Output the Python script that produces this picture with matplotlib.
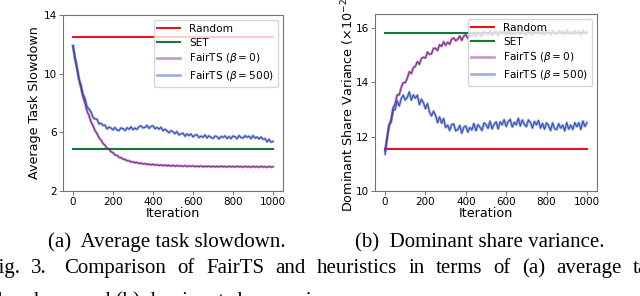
import numpy as np
import matplotlib
matplotlib.use("Agg")
import matplotlib.pyplot as plt

iterations = list(range(0, 1001, 10))

# (a) Average task slowdown
slow_random = 12.5
slow_set = 4.86
slow_fairts_b0 = [
    11.90, 11.00, 10.34, 9.58, 9.02, 8.40, 7.98, 7.46, 7.14, 6.72,
    6.46, 6.12, 5.92, 5.63, 5.48, 5.24, 5.12, 4.92, 4.85, 4.67,
    4.62, 4.46, 4.43, 4.30, 4.28, 4.17, 4.16, 4.06, 4.07, 3.97,
    3.99, 3.93, 3.94, 3.88, 3.90, 3.84, 3.87, 3.81, 3.84, 3.78,
    3.82, 3.77, 3.79, 3.74, 3.78, 3.73, 3.77, 3.72, 3.75, 3.70,
    3.75, 3.69, 3.73, 3.70, 3.72, 3.68, 3.73, 3.67, 3.71, 3.68,
    3.72, 3.66, 3.70, 3.66, 3.71, 3.65, 3.69, 3.66, 3.70, 3.64,
    3.69, 3.65, 3.68, 3.64, 3.70, 3.65, 3.68, 3.63, 3.69, 3.64,
    3.68, 3.63, 3.69, 3.64, 3.67, 3.62, 3.68, 3.64, 3.67, 3.62,
    3.68, 3.63, 3.67, 3.62, 3.68, 3.63, 3.66, 3.62, 3.67, 3.63,
    3.65,
]
slow_fairts_b500 = [
    11.89, 11.10, 10.44, 9.64, 9.22, 8.61, 8.32, 7.76, 7.59, 7.39,
    7.03, 6.91, 6.90, 6.57, 6.62, 6.47, 6.50, 6.23, 6.36, 6.29,
    6.17, 6.33, 6.16, 6.12, 6.30, 6.25, 6.12, 6.31, 6.21, 6.37,
    6.18, 6.29, 6.20, 6.39, 6.44, 6.30, 6.34, 6.47, 6.27, 6.41,
    6.44, 6.25, 6.33, 6.22, 6.34, 6.11, 6.21, 6.10, 5.97, 6.12,
    6.04, 5.91, 6.05, 5.82, 5.90, 5.94, 5.73, 5.89, 5.78, 5.89,
    5.69, 5.80, 5.84, 5.64, 5.74, 5.66, 5.82, 5.62, 5.76, 5.65,
    5.58, 5.75, 5.70, 5.55, 5.72, 5.65, 5.76, 5.58, 5.71, 5.57,
    5.75, 5.69, 5.57, 5.78, 5.64, 5.61, 5.77, 5.66, 5.74, 5.57,
    5.78, 5.60, 5.68, 5.55, 5.68, 5.53, 5.58, 5.35, 5.52, 5.33,
    5.38,
]

# (b) Dominant share variance (x1e-2)
var_random = 11.53
var_set = 15.80
var_fairts_b0 = [
    11.47, 11.95, 12.40, 12.63, 13.06, 13.21, 13.53, 13.53, 13.80, 13.98,
    13.98, 14.14, 14.38, 14.31, 14.53, 14.58, 14.75, 14.65, 14.87, 14.91,
    14.88, 15.10, 15.02, 15.04, 15.24, 15.24, 15.16, 15.37, 15.31, 15.48,
    15.35, 15.46, 15.39, 15.57, 15.62, 15.52, 15.57, 15.69, 15.53, 15.69,
    15.74, 15.61, 15.73, 15.68, 15.83, 15.67, 15.80, 15.75, 15.68, 15.85,
    15.82, 15.74, 15.89, 15.72, 15.82, 15.87, 15.71, 15.86, 15.79, 15.89,
    15.74, 15.86, 15.90, 15.73, 15.83, 15.77, 15.92, 15.75, 15.88, 15.79,
    15.74, 15.89, 15.84, 15.72, 15.87, 15.81, 15.91, 15.75, 15.86, 15.74,
    15.89, 15.84, 15.73, 15.90, 15.78, 15.76, 15.90, 15.80, 15.87, 15.74,
    15.92, 15.77, 15.85, 15.75, 15.89, 15.80, 15.88, 15.72, 15.90, 15.78,
    15.85,
]
var_fairts_b500 = [
    11.35, 11.95, 12.43, 12.53, 12.98, 12.99, 13.31, 13.12, 13.39, 13.52,
    13.34, 13.44, 13.64, 13.34, 13.53, 13.41, 13.52, 13.17, 13.37, 13.24,
    13.02, 13.21, 12.90, 12.76, 12.93, 12.78, 12.51, 12.72, 12.49, 12.66,
    12.33, 12.42, 12.22, 12.44, 12.46, 12.21, 12.25, 12.41, 12.12, 12.34,
    12.39, 12.16, 12.33, 12.24, 12.48, 12.21, 12.44, 12.34, 12.22, 12.50,
    12.44, 12.30, 12.56, 12.28, 12.45, 12.54, 12.28, 12.54, 12.43, 12.62,
    12.37, 12.55, 12.63, 12.35, 12.52, 12.43, 12.67, 12.39, 12.61, 12.45,
    12.36, 12.61, 12.52, 12.31, 12.55, 12.43, 12.59, 12.31, 12.48, 12.27,
    12.50, 12.41, 12.22, 12.50, 12.29, 12.25, 12.47, 12.31, 12.42, 12.21,
    12.51, 12.27, 12.42, 12.26, 12.51, 12.36, 12.51, 12.26, 12.57, 12.37,
    12.50,
]

labels = ["Random", "SET", r"FairTS ($\beta=0$)", r"FairTS ($\beta=500$)"]
x_ticks = [0, 200, 400, 600, 800, 1000]
slow_yticks = [2, 6, 10, 14]
var_yticks = [10, 12, 14, 16]

caption_a = "(a)  Average task slowdown."
caption_b = "(b)  Dominant share variance."
caption_line2 = ["Fig.", "3.", "Comparison", "of", "FairTS", "and", "heuristics",
                 "in", "terms", "of", "(a)", "average", "task"]
caption_line3 = "slowdown and (b) dominant share variance."

C_RANDOM = "#e8141b"
C_SET = "#137a35"
C_B0 = "#7d1f8a"
C_B500 = "#2c4cb4"

W, H = 640, 296
fig = plt.figure(figsize=(W / 100, H / 100), dpi=100)


def setup(ax):
    for s in ax.spines.values():
        s.set_color("0.45")
        s.set_linewidth(0.8)
    ax.tick_params(labelsize=7.5, length=3, width=0.7, color="0.45", pad=1.5)
    ax.set_xticks(x_ticks)
    ax.set_xlim(-50, 1050)
    ax.set_xlabel("Iteration", fontsize=9.2, labelpad=0)


def draw(ax, rnd, st, b0, b500):
    x = np.array(iterations)
    ax.plot([0, 1000], [rnd] * 2, color=C_RANDOM, lw=1.5, label=labels[0])
    ax.plot([0, 1000], [st] * 2, color=C_SET, lw=1.5, label=labels[1])
    ax.plot(x, b0, color=C_B0, lw=1.9, alpha=0.45, label=labels[2])
    ax.plot(x, b0, color=C_B0, lw=0.7)
    ax.plot(x, b500, color=C_B500, lw=1.9, alpha=0.45, label=labels[3])
    ax.plot(x, b500, color=C_B500, lw=0.7)
    ax.legend(loc="upper right", fontsize=7.6, handlelength=2.2,
              labelspacing=0.35, borderpad=0.35)


ax1 = fig.add_axes([63 / W, 1 - 191 / H, 220 / W, 176 / H])
draw(ax1, slow_random, slow_set, slow_fairts_b0, slow_fairts_b500)
ax1.set_ylim(2, 14)
ax1.set_yticks(slow_yticks)
setup(ax1)
ax1.set_ylabel("Average Task Slowdown", fontsize=9.2, labelpad=2)

ax2 = fig.add_axes([375 / W, 1 - 191 / H, 222 / W, 177 / H])
draw(ax2, var_random, var_set, var_fairts_b0, var_fairts_b500)
ax2.set_ylim(10, 16.5)
ax2.set_yticks(var_yticks)
setup(ax2)
ax2.set_ylabel(r"Dominant Share Variance ($\times10^{-2}$)", fontsize=9.2, labelpad=-1)

# caption
serif = ["Liberation Serif", "DejaVu Serif"]
cap_fs = 15


def ptext(xp, yp, s):
    return fig.text(xp / W, 1 - yp / H, s, fontsize=cap_fs, family=serif,
                    va="baseline", ha="left")


ptext(48, 247, caption_a)
ptext(355, 247, caption_b)

# justified second caption line (left end and right end cut by the image edge)
renderer = fig.canvas.get_renderer()
words = [ptext(0, 273, w) for w in caption_line2]
widths = [t.get_window_extent(renderer).width for t in words]
x_start, x_last = -13.0, 633.0
extra_after_num = 6.0
total = sum(widths[:-1]) + extra_after_num
gap = (x_last - x_start - total) / (len(words) - 1)
xp = x_start
for i, (t, wd) in enumerate(zip(words, widths)):
    t.set_x(xp / W)
    xp += wd + gap + (extra_after_num if i == 1 else 0)

ptext(-11, 306, caption_line3)

fig.savefig("out.png", dpi=100)
